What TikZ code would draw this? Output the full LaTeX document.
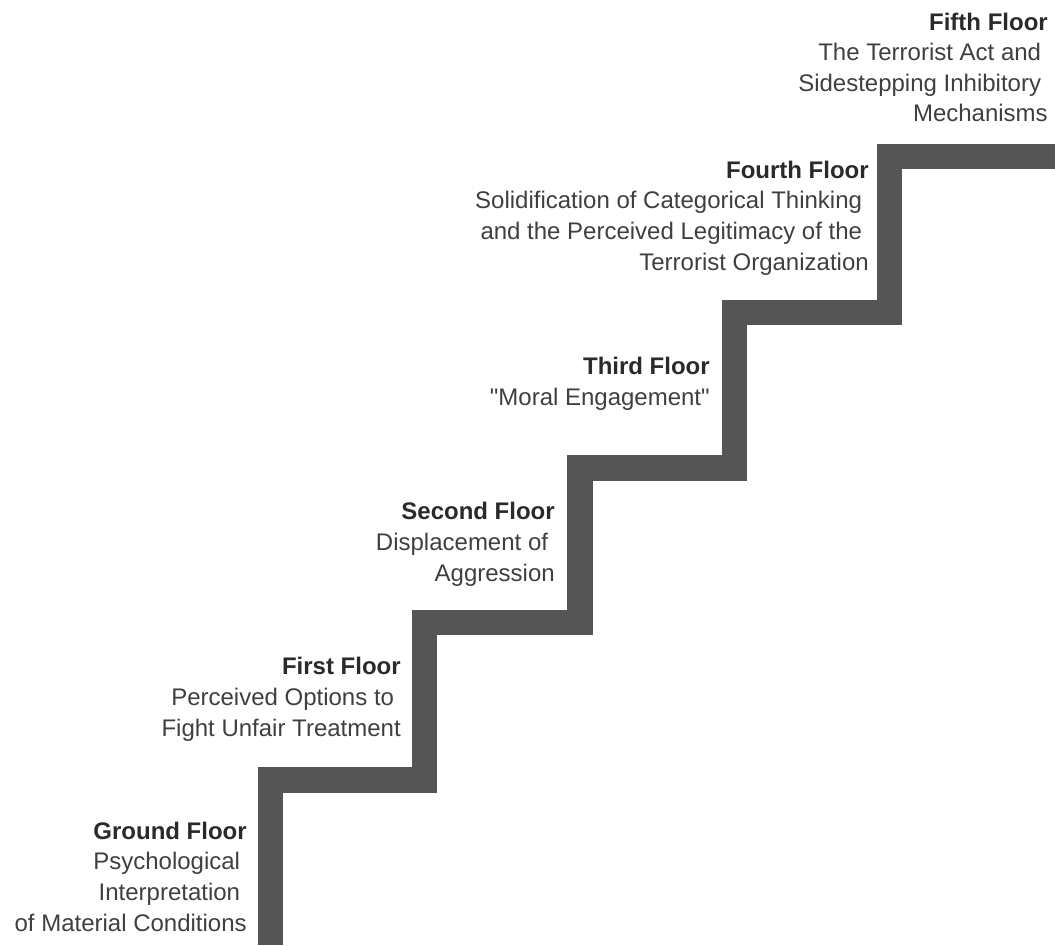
\documentclass[tikz,border=0pt]{standalone}
\usepackage{fontspec}
\setmainfont{Liberation Sans}[Ligatures=TeXOff]
\definecolor{stair}{HTML}{555555}
\definecolor{headc}{HTML}{2A2A2A}
\definecolor{bodyc}{HTML}{3F3F3F}
\newcommand{\tsp}{\kern.278em}
\newcommand{\hd}[1]{{\bfseries\color{headc}#1}}
\begin{document}
\begin{tikzpicture}[x=0.75pt,y=-0.75pt,
  floor/.style={anchor=base east,align=right,inner sep=0pt,text=bodyc,
    font=\fontsize{18}{22.9}\selectfont},
  stairline/.style={draw=stair,line width=19.1pt,line join=miter,line cap=butt}]
\useasboundingbox (0,0) rectangle (1055,945);
\draw[stairline] (270.5,945) -- (270.5,780) -- (424.5,780) -- (424.5,622.5)
  -- (580,622.5) -- (580,468) -- (734.5,468) -- (734.5,312.5)
  -- (889.5,312.5) -- (889.5,156.5) -- (1055,156.5);
\node[floor] (f5) at (1048,122) {\hd{Fifth Floor}\\The Terrorist Act and\tsp\\Sidestepping Inhibitory\tsp\\Mechanisms};
\node[floor] (f4) at (869,270) {\hd{Fourth Floor}\\Solidification of Categorical Thinking\tsp\\and the Perceived Legitimacy of the\tsp\\Terrorist Organization};
\node[floor] (f3) at (710,405) {\hd{Third Floor}\\"Moral Engagement"};
\node[floor] (f2) at (555,581) {\hd{Second Floor}\\Displacement of\tsp\\Aggression};
\node[floor] (f1) at (401,736) {\hd{First Floor}\\Perceived Options to\tsp\\Fight Unfair Treatment};
\node[floor] (f0) at (247,931) {\hd{Ground Floor}\\Psychological\tsp\\Interpretation\tsp\\of Material Conditions};
\end{tikzpicture}
\end{document}
